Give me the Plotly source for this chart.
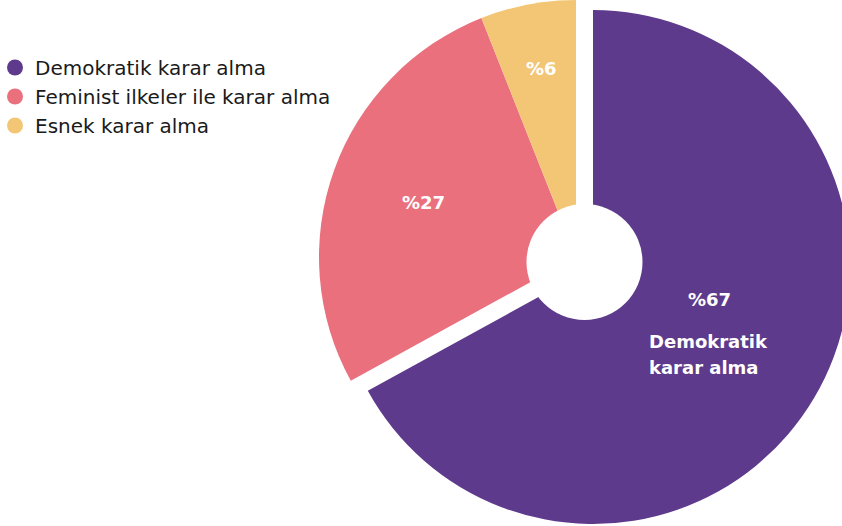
import plotly.graph_objects as go

# ---- data ----
categories = ["Demokratik karar alma", "Feminist ilkeler ile karar alma", "Esnek karar alma"]
values = [67, 27, 6]
colors = ["#5E3A8C", "#EA707E", "#F2C675"]
pct_labels = [f"%{v}" for v in values]

# ---- geometry (pixels) ----
W, H = 860, 526
R = 257
c_main = (593, 267)   # purple slice, pulled out
c_rest = (576, 257)   # the other two slices
hole_c = (584.5, 262)
hole_r = 58
FONT = "DejaVu Sans"
TRANSP = "rgba(0,0,0,0)"


def dom(cx, cy, r):
    return dict(x=[(cx - r) / W, (cx + r) / W], y=[1 - (cy + r) / H, 1 - (cy - r) / H])


def px(x, y):
    return x / W, 1 - y / H


fig = go.Figure()

fig.add_trace(go.Pie(
    labels=categories, values=values, sort=False, direction="clockwise", rotation=0,
    marker=dict(colors=[TRANSP, colors[1], colors[2]], line=dict(width=0)),
    textinfo="none", domain=dom(*c_rest, R), showlegend=False, hoverinfo="label+percent",
))
fig.add_trace(go.Pie(
    labels=categories, values=values, sort=False, direction="clockwise", rotation=0,
    marker=dict(colors=[colors[0], TRANSP, TRANSP], line=dict(width=0)),
    textinfo="none", domain=dom(*c_main, R), showlegend=False, hoverinfo="label+percent",
))

# legend entries (circle markers)
for cat, col in zip(categories, colors):
    fig.add_trace(go.Scatter(x=[None], y=[None], mode="markers", name=cat,
                             marker=dict(size=16, color=col, symbol="circle")))

# hole
hx, hy = hole_c
fig.add_shape(type="circle", xref="paper", yref="paper",
              x0=(hx - hole_r) / W, x1=(hx + hole_r) / W,
              y0=1 - (hy + hole_r) / H, y1=1 - (hy - hole_r) / H,
              fillcolor="white", line=dict(width=0), layer="above")

lab_font = dict(family=FONT, size=18, color="white", weight="bold")
label_pos = [(709, 299), (423, 202), (541, 68)]
for t, (x, y) in zip(pct_labels, label_pos):
    ax, ay = px(x, y)
    fig.add_annotation(x=ax, y=ay, xref="paper", yref="paper", text=f"<b>{t}</b>",
                       showarrow=False, font=lab_font, xanchor="center", yanchor="middle")

name_lines = categories[0].split(" ", 1)
for t, y in zip(name_lines, [341, 367]):
    ax, ay = px(647, y)
    fig.add_annotation(x=ax, y=ay, xref="paper", yref="paper", text=f"<b>{t}</b>",
                       showarrow=False, font=lab_font, xanchor="left", yanchor="middle")

fig.update_layout(
    width=W, height=H,
    margin=dict(l=0, r=0, t=0, b=0),
    paper_bgcolor="white", plot_bgcolor="white",
    xaxis=dict(visible=False), yaxis=dict(visible=False),
    showlegend=True,
    legend=dict(x=0, y=1 - 48 / H, xanchor="left", yanchor="top", indentation=-5,
                font=dict(family=FONT, size=20, color="#1a1a1a"),
                bgcolor="rgba(0,0,0,0)", itemclick=False, itemdoubleclick=False),
    font=dict(family=FONT),
)

fig.write_html(
    "out.html",
    config={"displayModeBar": False},
    post_script="document.body.style.margin='0px';"
                "document.documentElement.style.overflow='hidden';",
)
